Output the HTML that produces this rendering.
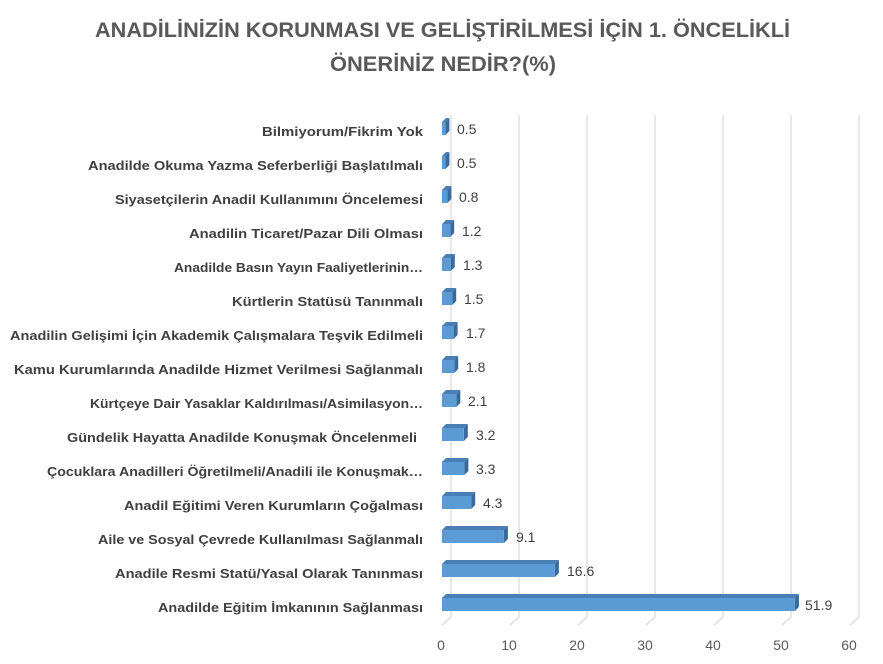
<!DOCTYPE html>
<html><head><meta charset="utf-8"><style>
body{margin:0;background:#fff}
svg{display:block}
text{font-family:"Liberation Sans",sans-serif}
.v{font-size:14px;fill:#404040}
.l{font-size:13px;font-weight:bold;fill:#404040}
.t{fill:#4a7fb5}.s{fill:#3a6a99}.f{fill:#5b9bd5}
</style></head><body>
<svg width="883" height="664" viewBox="0 0 883 664">
<text x="95" y="37" textLength="695" lengthAdjust="spacingAndGlyphs" font-size="21" font-weight="bold" fill="#595959">ANADİLİNİZİN KORUNMASI VE GELİŞTİRİLMESİ İÇİN 1. ÖNCELİKLİ</text>
<text x="330" y="71" textLength="226" lengthAdjust="spacingAndGlyphs" font-size="21" font-weight="bold" fill="#595959">ÖNERİNİZ NEDİR?(%)</text>
<g stroke="#d9d9d9" stroke-width="1.2" fill="none">
<path d="M451 115V617L442 625"/><path d="M519 115V617L510 625"/><path d="M587 115V617L578 625"/><path d="M655 115V617L646 625"/><path d="M723 115V617L714 625"/><path d="M791 115V617L782 625"/><path d="M859 115V617L850 625"/>
</g>
<g font-size="14" fill="#595959" text-anchor="middle">
<text x="441" y="650">0</text><text x="509" y="650">10</text><text x="577" y="650">20</text><text x="645" y="650">30</text><text x="713" y="650">40</text><text x="781" y="650">50</text><text x="849" y="650">60</text>
</g>

<g transform="translate(0,122)"><polygon class="t" points="442,0 446,-4 449.4,-4 445.4,0"/><polygon class="s" points="445.4,0 449.4,-4 449.4,9 445.4,13"/><rect class="f" x="442" y="0" width="3.4" height="13"/><text class="v" x="457" y="12">0.5</text><text class="l" x="262" y="14" textLength="161" lengthAdjust="spacingAndGlyphs">Bilmiyorum/Fikrim Yok</text></g>
<g transform="translate(0,156)"><polygon class="t" points="442,0 446,-4 449.4,-4 445.4,0"/><polygon class="s" points="445.4,0 449.4,-4 449.4,9 445.4,13"/><rect class="f" x="442" y="0" width="3.4" height="13"/><text class="v" x="457" y="12">0.5</text><text class="l" x="88" y="14" textLength="335" lengthAdjust="spacingAndGlyphs">Anadilde Okuma Yazma Seferberliği Başlatılmalı</text></g>
<g transform="translate(0,190)"><polygon class="t" points="442,0 446,-4 451.4,-4 447.4,0"/><polygon class="s" points="447.4,0 451.4,-4 451.4,9 447.4,13"/><rect class="f" x="442" y="0" width="5.4" height="13"/><text class="v" x="459" y="12">0.8</text><text class="l" x="115" y="14" textLength="308" lengthAdjust="spacingAndGlyphs">Siyasetçilerin Anadil Kullanımını Öncelemesi</text></g>
<g transform="translate(0,224)"><polygon class="t" points="442,0 446,-4 454.2,-4 450.2,0"/><polygon class="s" points="450.2,0 454.2,-4 454.2,9 450.2,13"/><rect class="f" x="442" y="0" width="8.2" height="13"/><text class="v" x="462" y="12">1.2</text><text class="l" x="189" y="14" textLength="234" lengthAdjust="spacingAndGlyphs">Anadilin Ticaret/Pazar Dili Olması</text></g>
<g transform="translate(0,258)"><polygon class="t" points="442,0 446,-4 454.8,-4 450.8,0"/><polygon class="s" points="450.8,0 454.8,-4 454.8,9 450.8,13"/><rect class="f" x="442" y="0" width="8.8" height="13"/><text class="v" x="463" y="12">1.3</text><text class="l" x="174" y="14" textLength="249" lengthAdjust="spacingAndGlyphs">Anadilde Basın Yayın Faaliyetlerinin…</text></g>
<g transform="translate(0,292)"><polygon class="t" points="442,0 446,-4 456.2,-4 452.2,0"/><polygon class="s" points="452.2,0 456.2,-4 456.2,9 452.2,13"/><rect class="f" x="442" y="0" width="10.2" height="13"/><text class="v" x="464" y="12">1.5</text><text class="l" x="232" y="14" textLength="191" lengthAdjust="spacingAndGlyphs">Kürtlerin Statüsü Tanınmalı</text></g>
<g transform="translate(0,326)"><polygon class="t" points="442,0 446,-4 457.6,-4 453.6,0"/><polygon class="s" points="453.6,0 457.6,-4 457.6,9 453.6,13"/><rect class="f" x="442" y="0" width="11.6" height="13"/><text class="v" x="466" y="12">1.7</text><text class="l" x="10" y="14" textLength="413" lengthAdjust="spacingAndGlyphs">Anadilin Gelişimi İçin Akademik Çalışmalara Teşvik Edilmeli</text></g>
<g transform="translate(0,360)"><polygon class="t" points="442,0 446,-4 458.2,-4 454.2,0"/><polygon class="s" points="454.2,0 458.2,-4 458.2,9 454.2,13"/><rect class="f" x="442" y="0" width="12.2" height="13"/><text class="v" x="466" y="12">1.8</text><text class="l" x="14" y="14" textLength="409" lengthAdjust="spacingAndGlyphs">Kamu Kurumlarında Anadilde Hizmet Verilmesi Sağlanmalı</text></g>
<g transform="translate(0,394)"><polygon class="t" points="442,0 446,-4 460.3,-4 456.3,0"/><polygon class="s" points="456.3,0 460.3,-4 460.3,9 456.3,13"/><rect class="f" x="442" y="0" width="14.3" height="13"/><text class="v" x="468" y="12">2.1</text><text class="l" x="90" y="14" textLength="333" lengthAdjust="spacingAndGlyphs">Kürtçeye Dair Yasaklar Kaldırılması/Asimilasyon…</text></g>
<g transform="translate(0,428)"><polygon class="t" points="442,0 446,-4 467.8,-4 463.8,0"/><polygon class="s" points="463.8,0 467.8,-4 467.8,9 463.8,13"/><rect class="f" x="442" y="0" width="21.8" height="13"/><text class="v" x="476" y="12">3.2</text><text class="l" x="67" y="14" textLength="350" lengthAdjust="spacingAndGlyphs">Gündelik Hayatta Anadilde Konuşmak Öncelenmeli</text></g>
<g transform="translate(0,462)"><polygon class="t" points="442,0 446,-4 468.4,-4 464.4,0"/><polygon class="s" points="464.4,0 468.4,-4 468.4,9 464.4,13"/><rect class="f" x="442" y="0" width="22.4" height="13"/><text class="v" x="476" y="12">3.3</text><text class="l" x="47" y="14" textLength="376" lengthAdjust="spacingAndGlyphs">Çocuklara Anadilleri Öğretilmeli/Anadili ile Konuşmak…</text></g>
<g transform="translate(0,496)"><polygon class="t" points="442,0 446,-4 475.2,-4 471.2,0"/><polygon class="s" points="471.2,0 475.2,-4 475.2,9 471.2,13"/><rect class="f" x="442" y="0" width="29.2" height="13"/><text class="v" x="483" y="12">4.3</text><text class="l" x="124" y="14" textLength="299" lengthAdjust="spacingAndGlyphs">Anadil Eğitimi Veren Kurumların Çoğalması</text></g>
<g transform="translate(0,530)"><polygon class="t" points="442,0 446,-4 507.9,-4 503.9,0"/><polygon class="s" points="503.9,0 507.9,-4 507.9,9 503.9,13"/><rect class="f" x="442" y="0" width="61.9" height="13"/><text class="v" x="516" y="12">9.1</text><text class="l" x="98" y="14" textLength="325" lengthAdjust="spacingAndGlyphs">Aile ve Sosyal Çevrede Kullanılması Sağlanmalı</text></g>
<g transform="translate(0,564)"><polygon class="t" points="442,0 446,-4 558.9,-4 554.9,0"/><polygon class="s" points="554.9,0 558.9,-4 558.9,9 554.9,13"/><rect class="f" x="442" y="0" width="112.9" height="13"/><text class="v" x="567" y="12">16.6</text><text class="l" x="115" y="14" textLength="308" lengthAdjust="spacingAndGlyphs">Anadile Resmi Statü/Yasal Olarak Tanınması</text></g>
<g transform="translate(0,598)"><polygon class="t" points="442,0 446,-4 798.9,-4 794.9,0"/><polygon class="s" points="794.9,0 798.9,-4 798.9,9 794.9,13"/><rect class="f" x="442" y="0" width="352.9" height="13"/><text class="v" x="805" y="12">51.9</text><text class="l" x="158" y="14" textLength="265" lengthAdjust="spacingAndGlyphs">Anadilde Eğitim İmkanının Sağlanması</text></g>
</svg>
</body></html>
